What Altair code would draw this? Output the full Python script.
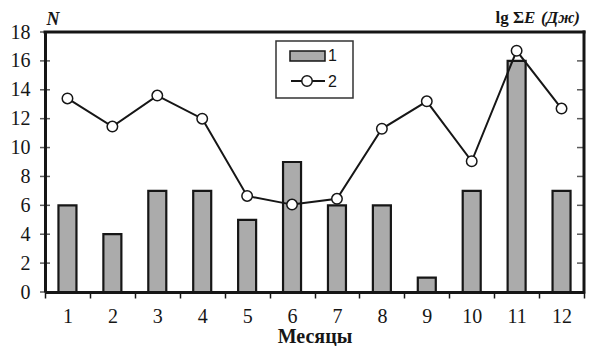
import altair as alt
import pandas as pd

months = ["1", "2", "3", "4", "5", "6", "7", "8", "9", "10", "11", "12"]
n_events = [6, 4, 7, 7, 5, 9, 6, 6, 1, 7, 16, 7]
lg_energy = [13.4, 11.45, 13.6, 12.0, 6.65, 6.05, 6.45, 11.3, 13.2, 9.05, 16.7, 12.7]
y_ticks = [0, 2, 4, 6, 8, 10, 12, 14, 16, 18]

W, H = 539, 260
SERIF = "Liberation Serif"
SANS = "Liberation Sans"
INK = "#161616"
BAR_FILL = "#ababab"

df = pd.DataFrame({"month": months, "N": n_events, "E": lg_energy})
ticks_df = pd.DataFrame({"t": y_ticks})
one = alt.InlineData(values=[{"k": 1}])

yscale = alt.Scale(domain=[0, 18], nice=False, zero=True)
xscale = alt.Scale(paddingInner=0, paddingOuter=0)

yaxis = alt.Axis(
    values=y_ticks,
    title="N",
    titleAngle=0,
    titleX=1,
    titleY=-8,
    titleAlign="left",
    titleBaseline="alphabetic",
    titleFont=SERIF,
    titleFontSize=18,
    titleFontWeight="bold",
    titleFontStyle="italic",
    titleColor=INK,
    labelFont=SERIF,
    labelFontSize=20,
    labelColor=INK,
    labelPadding=15,
    ticks=False,
    tickSize=0,
    domain=True,
    domainWidth=3,
    domainColor=INK,
    grid=False,
)
xaxis = alt.Axis(
    title="Месяцы",
    titleFont=SERIF,
    titleFontSize=20,
    titleFontWeight="bold",
    titleColor=INK,
    titleY=50,
    titleBaseline="alphabetic",
    labelAngle=0,
    labelFont=SERIF,
    labelFontSize=20,
    labelColor=INK,
    labelPadding=8,
    domain=True,
    domainWidth=3,
    domainColor=INK,
    ticks=True,
    tickBand="extent",
    tickSize=6,
    tickWidth=1.5,
    tickColor=INK,
    grid=False,
)
X = alt.X("month:O", sort=months, scale=xscale, axis=xaxis)

bars = alt.Chart(df).mark_bar(
    width=18, fill=BAR_FILL, stroke=INK, strokeWidth=2.2
).encode(x=X, y=alt.Y("N:Q", scale=yscale, axis=yaxis))

line = alt.Chart(df).mark_line(color=INK, strokeWidth=2).encode(
    x=X, y=alt.Y("E:Q", scale=yscale, axis=yaxis)
)
points = alt.Chart(df).mark_point(
    shape="circle", filled=True, fill="white", stroke=INK,
    strokeWidth=1.5, size=110, opacity=1
).encode(x=X, y=alt.Y("E:Q", scale=yscale, axis=yaxis))

left_ticks = alt.Chart(ticks_df).mark_tick(
    orient="horizontal", size=10, thickness=1.5, color=INK
).encode(y=alt.Y("t:Q", scale=yscale, axis=yaxis), x=alt.value(0))

right_ticks = alt.Chart(ticks_df).mark_tick(
    orient="horizontal", size=7, thickness=1.5, color=INK
).encode(y=alt.Y("t:Q", scale=yscale, axis=yaxis), x=alt.value(W - 3.5))

# top and right sides of the frame as thin filled bands
top_band = alt.Chart(one).mark_rect(fill=INK, strokeWidth=0).encode(
    x=alt.value(-1.5), x2=alt.value(W + 1.5), y=alt.value(-1.5), y2=alt.value(1.5)
)
right_band = alt.Chart(one).mark_rect(fill=INK, strokeWidth=0).encode(
    x=alt.value(W - 1.5), x2=alt.value(W + 1.5), y=alt.value(-1.5), y2=alt.value(H + 1.5)
)

# right axis label: lg ΣE (Дж)
rl1 = alt.Chart(one).mark_text(
    text="lg Σ", font=SERIF, fontSize=17, fontWeight="bold", align="right",
    baseline="alphabetic", color=INK
).encode(x=alt.value(479), y=alt.value(-9))
rl2 = alt.Chart(one).mark_text(
    text="E", font=SERIF, fontSize=17, fontWeight="bold", fontStyle="italic",
    align="left", baseline="alphabetic", color=INK
).encode(x=alt.value(479), y=alt.value(-9))
rl3 = alt.Chart(one).mark_text(
    text="(Дж)", font=SERIF, fontSize=17, fontWeight="bold", fontStyle="italic",
    align="right", baseline="alphabetic", color=INK
).encode(x=alt.value(535), y=alt.value(-9))

# legend
lg_box = alt.Chart(one).mark_rect(fill="white", stroke="#333333", strokeWidth=1.5).encode(
    x=alt.value(231), x2=alt.value(308), y=alt.value(9), y2=alt.value(66)
)
lg_bar = alt.Chart(one).mark_rect(fill=BAR_FILL, stroke=INK, strokeWidth=1.5).encode(
    x=alt.value(245), x2=alt.value(280), y=alt.value(19), y2=alt.value(29)
)
lg_t1 = alt.Chart(one).mark_text(
    text="1", font=SANS, fontSize=16, align="left", baseline="middle", color=INK
).encode(x=alt.value(283), y=alt.value(24))
lg_line = alt.Chart(one).mark_rule(color=INK, strokeWidth=2).encode(
    x=alt.value(246), x2=alt.value(280), y=alt.value(49)
)
lg_pt = alt.Chart(one).mark_point(
    shape="circle", filled=True, fill="white", stroke=INK, strokeWidth=1.5,
    size=110, opacity=1
).encode(x=alt.value(262), y=alt.value(49))
lg_t2 = alt.Chart(one).mark_text(
    text="2", font=SANS, fontSize=16, align="left", baseline="middle", color=INK
).encode(x=alt.value(283), y=alt.value(50))

chart = alt.layer(
    bars, line, points, top_band, right_band,
    left_ticks, right_ticks, rl1, rl2, rl3,
    lg_box, lg_bar, lg_t1, lg_line, lg_pt, lg_t2
).properties(
    width=W, height=H,
    autosize=alt.AutoSizeParams(type="none"),
    padding={"left": 37, "top": 24, "right": 2, "bottom": 54},
    background="white",
)

chart.save("out.html", embed_options={"renderer": "svg", "actions": False})
